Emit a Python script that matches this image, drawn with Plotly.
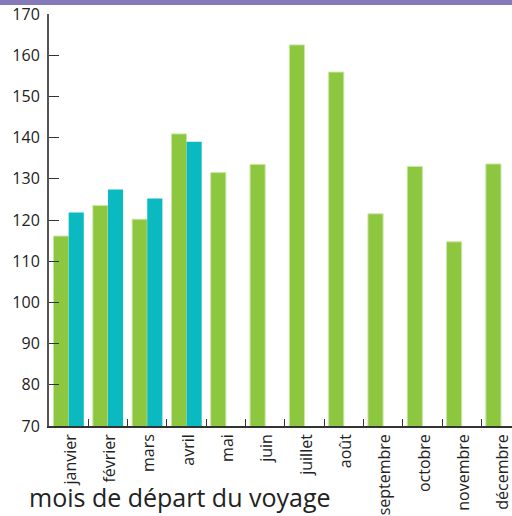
import plotly.graph_objects as go

months = ["janvier", "février", "mars", "avril", "mai", "juin", "juillet",
          "août", "septembre", "octobre", "novembre", "décembre"]
green_values = [116.1, 123.5, 120.2, 140.9, 131.5, 133.5, 162.5, 155.9,
                121.5, 133.0, 114.7, 133.6]
teal_values = [121.8, 127.4, 125.2, 139.0, None, None, None, None,
               None, None, None, None]
y_ticks = [70, 80, 90, 100, 110, 120, 130, 140, 150, 160, 170]

FONT = "Open Sans"
TXT = "#222222"

fig = go.Figure()
fig.add_trace(go.Bar(x=months, y=green_values, marker_color="#8dc63f",
                     marker_line=dict(color="#c9e6a3", width=1)))
fig.add_trace(go.Bar(x=months, y=teal_values, marker_color="#0bbac0",
                     marker_line=dict(color="#0bbac0", width=0)))

fig.update_layout(
    width=512, height=516,
    margin=dict(l=49, r=0, t=14, b=90, autoexpand=False),
    paper_bgcolor="white", plot_bgcolor="white",
    barmode="group", bargap=0.23, bargroupgap=0,
    showlegend=False,
    font=dict(family=FONT, color=TXT, size=16),
)
fig.update_xaxes(
    type="category", range=[-0.5, 11.28], automargin=False,
    showline=True, linecolor="#333333", linewidth=1.5,
    ticks="inside", tickson="boundaries", ticklen=7, tickcolor="#333333",
    tickangle=-90, tickfont=dict(size=16, family=FONT, color=TXT),
    ticklabelshift=2,
    showgrid=False, zeroline=False,
)
fig.update_yaxes(
    range=[70, 170], tickvals=y_ticks, automargin=False,
    showline=True, linecolor="#555555", linewidth=2,
    ticks="inside", ticklen=10, tickcolor="#333333",
    tickfont=dict(size=16, family=FONT, color=TXT),
    ticklabelstandoff=4,
    showgrid=False, zeroline=False,
)

# purple band at the very top of the image
fig.add_shape(type="rect", xref="paper", yref="paper",
              x0=-49 / 463, x1=1.0, y0=1 + 9 / 412, y1=1 + 14 / 412,
              fillcolor="#857ab9", line_width=0, layer="above")

fig.add_annotation(text="mois de départ du voyage", xref="paper", yref="paper",
                   x=-22 / 463, y=-(516 - 426) / 412, xanchor="left", yanchor="bottom",
                   showarrow=False, font=dict(size=25, family=FONT, color=TXT))

fig.write_html(
    "out.html",
    config={"displayModeBar": False},
    post_script="document.body.style.margin='0';document.body.style.overflow='hidden';",
)
